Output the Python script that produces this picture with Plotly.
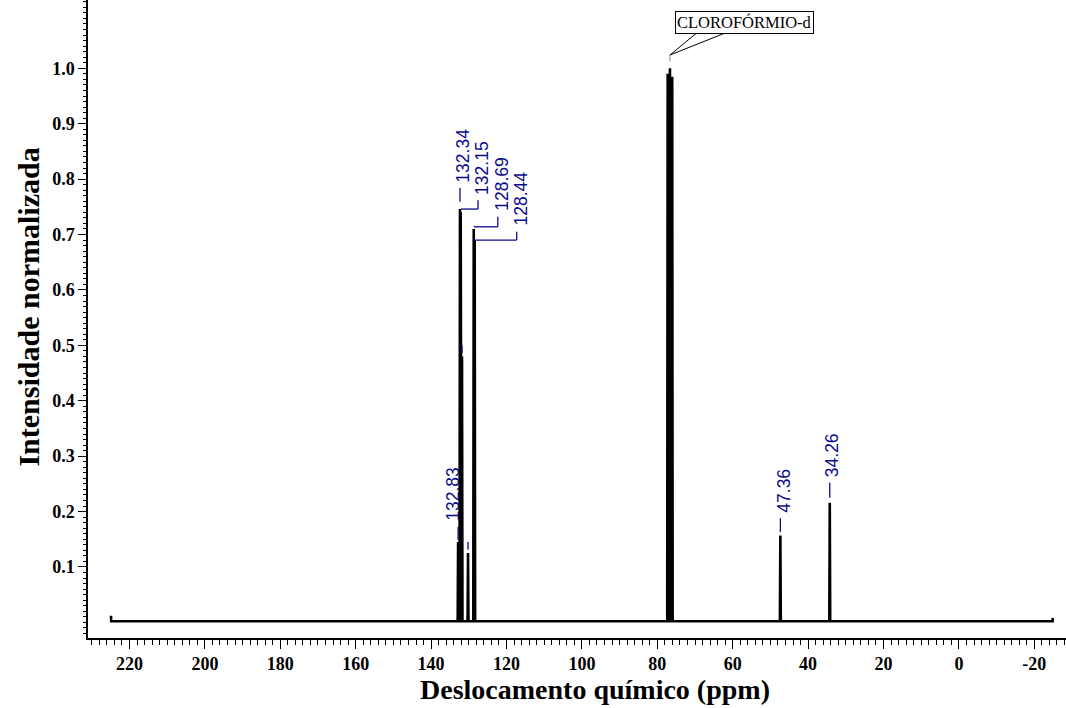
import plotly.graph_objects as go

# ---- 13C NMR peak list (chemical shift in ppm, normalised intensity) ----
peak_ppm = [132.83, 132.34, 132.15, 131.80, 130.20, 128.69, 128.44,
            77.25, 76.65, 76.05, 47.36, 34.26]
peak_int = [0.145, 0.746, 0.740, 0.480, 0.125, 0.710, 0.690,
            0.990, 1.000, 0.985, 0.157, 0.216]

# peaks that carry a printed shift value
labelled_ppm = [132.83, 132.34, 132.15, 128.69, 128.44, 47.36, 34.26]
# peaks picked but shown only with a small tick
tick_only_ppm = [131.80, 130.20]

# solvent reference
solvent_name = "CLOROFÓRMIO-d"
solvent_ppm = 76.65

# acquired window and baseline level
spec_start, spec_end = 224.9, -24.9
baseline = 0.002

x_ticks = [220, 200, 180, 160, 140, 120, 100, 80, 60, 40, 20, 0, -20]
y_ticks = [0.1, 0.2, 0.3, 0.4, 0.5, 0.6, 0.7, 0.8, 0.9, 1.0]

x_title = "Deslocamento químico (ppm)"
y_title = "Intensidade normalizada"

# ---- label layout: (ppm of label column, elbow level, stub top, text bottom, x shift px)
label_layout = {
    132.34: (None, None, 0.784, 0.790, 3),
    132.15: (127.55, 0.746, 0.762, 0.768, 4),
    128.69: (122.30, 0.714, 0.732, 0.739, 4),
    128.44: (117.30, 0.690, 0.705, 0.712, 4),
    132.83: (None, None, 0.172, 0.180, -5),
    47.36: (None, None, 0.188, 0.195, 4),
    34.26: (None, None, 0.252, 0.258, 3),
}
stub_gap = {132.34: 0.013, 132.83: 0.004, 47.36: 0.006, 34.26: 0.009}

BLUE = "#0B0B8C"
half_width = 0.12

# ---- build the spectrum trace from the peak list ----
order = sorted(range(len(peak_ppm)), key=lambda i: -peak_ppm[i])
xs = [spec_start, spec_start - 0.05]
ys = [0.012, baseline]
for i in order:
    p, h = peak_ppm[i], peak_int[i]
    xs += [p + half_width, p, p - half_width]
    ys += [baseline, h, baseline]
xs += [spec_end + 0.05, spec_end]
ys += [baseline, 0.008]

fig = go.Figure()
fig.add_trace(go.Scatter(x=xs, y=ys, mode="lines",
                         line=dict(color="black", width=2.6),
                         hoverinfo="skip", showlegend=False))

height_of = dict(zip(peak_ppm, peak_int))
shapes = []
annotations = []


def seg(x0, y0, x1, y1, color=BLUE, width=1.3):
    shapes.append(dict(type="line", xref="x", yref="y", x0=x0, y0=y0,
                       x1=x1, y1=y1, line=dict(color=color, width=width)))


for p in labelled_ppm:
    h = height_of[p]
    lx, elbow, top, text_y, shift = label_layout[p]
    if lx is None:
        seg(p, h + stub_gap[p], p, top)
        col = p
    else:
        seg(p, elbow, lx, elbow)
        seg(lx, elbow, lx, top)
        col = lx
    annotations.append(dict(
        x=col, y=text_y, xref="x", yref="y", text=f"{p:.2f}",
        textangle=-90, showarrow=False, xanchor="center", yanchor="bottom",
        xshift=shift, font=dict(family="Liberation Sans, Arial", size=17.5, color=BLUE)))

for p in tick_only_ppm:
    h = height_of[p]
    seg(p, h + 0.006, p, h + 0.02)

# solvent callout box with its pointer
annotations.append(dict(
    x=56.8, y=1.0825, xref="x", yref="y", text=solvent_name, showarrow=False,
    font=dict(family="Liberation Serif, Times New Roman", size=16.5, color="black"),
    bgcolor="white", bordercolor="black", borderwidth=1, borderpad=1))
shapes.append(dict(type="path", xref="x", yref="y",
                   path=f"M {solvent_ppm - 7.4} 1.0655 L {solvent_ppm} 1.024 L {solvent_ppm - 15.3} 1.0655",
                   line=dict(color="black", width=1)))
seg(solvent_ppm, 1.024, solvent_ppm, 1.012, color="#888888", width=1)

# axis titles
title_font = dict(family="Liberation Serif, Times New Roman", color="black", weight="bold")
annotations.append(dict(text=x_title, xref="paper", yref="paper", x=0.518, y=-0.0815,
                        xanchor="center", yanchor="middle", showarrow=False,
                        font=dict(size=28, **title_font)))
annotations.append(dict(text=y_title, xref="paper", yref="paper", x=-0.0613, y=0.518,
                        xanchor="center", yanchor="middle", showarrow=False, textangle=-90,
                        font=dict(size=30, **title_font)))

serif_bold = dict(family="Liberation Serif, Times New Roman", size=18, color="black", weight="bold")

fig.update_layout(
    width=1066, height=708,
    margin=dict(l=88, r=0, t=0, b=70),
    paper_bgcolor="white", plot_bgcolor="white",
    shapes=shapes, annotations=annotations,
    xaxis=dict(
        range=[231.0, -28.4], tickvals=x_ticks, ticktext=[str(v) for v in x_ticks],
        ticks="outside", ticklen=9, tickwidth=1.3, tickcolor="black",
        minor=dict(dtick=2, tick0=0, ticks="outside", ticklen=5, tickwidth=1, tickcolor="black"),
        showline=True, linecolor="black", linewidth=1.5, showgrid=False, zeroline=False,
        tickfont=serif_bold,
    ),
    yaxis=dict(
        range=[-0.0282, 1.1233], tickvals=y_ticks, ticktext=[f"{v:.1f}" for v in y_ticks],
        ticks="outside", ticklen=8, tickwidth=1.3, tickcolor="black",
        minor=dict(dtick=0.01, tick0=0, ticks="outside", ticklen=3, tickwidth=1, tickcolor="black"),
        showline=True, linecolor="black", linewidth=1.5, showgrid=False, zeroline=False,
        tickfont=serif_bold,
    ),
)

fig.write_html("out.html")
